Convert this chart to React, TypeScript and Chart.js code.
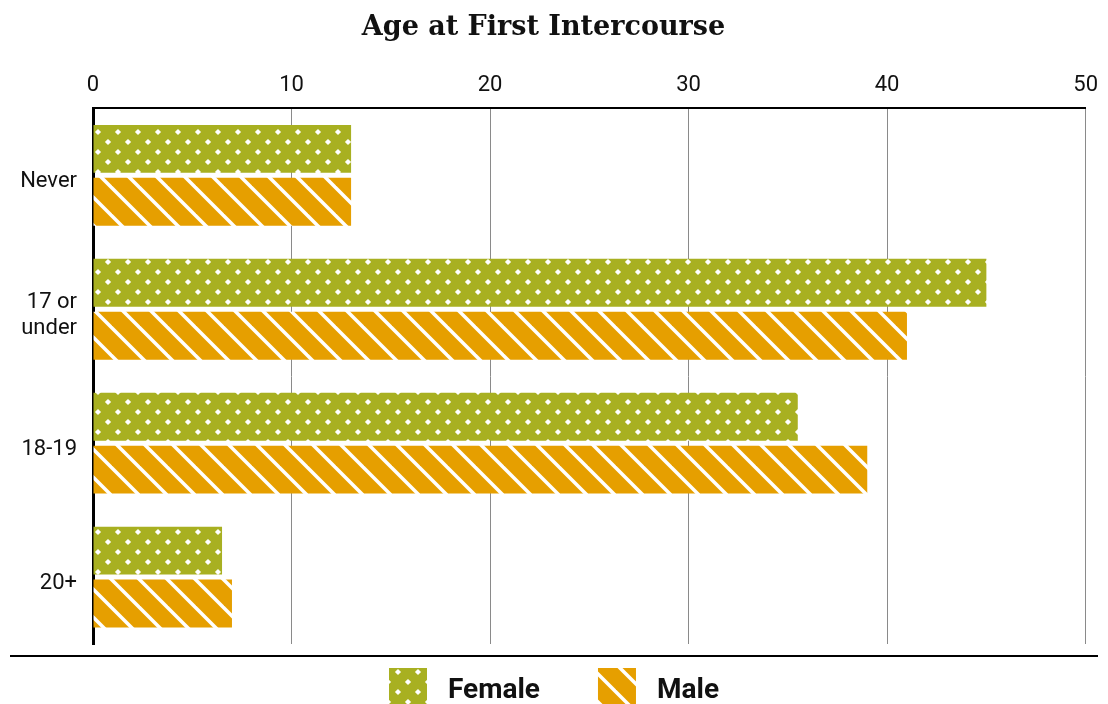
import React, { useEffect, useRef } from "react";
import { Chart, registerables } from "chart.js";

Chart.register(...registerables);

const categories: (string | string[])[] = ["Never", ["17 or", "under"], "18-19", "20+"];
const femaleValues = [13, 45, 35.5, 6.5];
const maleValues = [13, 41, 39, 7];
const seriesNames = ["Female", "Male"];
const xMin = 0;
const xMax = 50;
const xStep = 10;
const chartTitle = "Age at First Intercourse";

const OLIVE = "#a8b021";
const ORANGE = "#e69f00";

function makeDotPattern(): CanvasPattern | string {
  const t = document.createElement("canvas");
  t.width = 20;
  t.height = 20;
  const c = t.getContext("2d");
  if (!c) return OLIVE;
  c.fillStyle = OLIVE;
  c.fillRect(0, 0, 20, 20);
  c.fillStyle = "#ffffff";
  const pts = [
    [18, 12],
    [8, 2],
  ];
  const r = 3.1;
  for (const [px, py] of pts) {
    for (const dx of [-20, 0, 20]) {
      for (const dy of [-20, 0, 20]) {
        const x = px + dx;
        const y = py + dy;
        c.beginPath();
        c.moveTo(x, y - r);
        c.lineTo(x + r, y);
        c.lineTo(x, y + r);
        c.lineTo(x - r, y);
        c.closePath();
        c.fill();
      }
    }
  }
  const p = c.createPattern(t, "repeat");
  return p || OLIVE;
}

function makeStripePattern(): CanvasPattern | string {
  const s = 28;
  const t = document.createElement("canvas");
  t.width = s;
  t.height = s;
  const c = t.getContext("2d");
  if (!c) return ORANGE;
  c.fillStyle = ORANGE;
  c.fillRect(0, 0, s, s);
  c.strokeStyle = "#ffffff";
  c.lineWidth = 3.5;
  const base = 20;
  for (const k of [-2, -1, 0, 1]) {
    const off = base + k * s;
    c.beginPath();
    c.moveTo(-10, -10 + off);
    c.lineTo(s + 10, s + 10 + off);
    c.stroke();
  }
  const p = c.createPattern(t, "repeat");
  return p || ORANGE;
}

const legendPlugin = {
  id: "customLegend",
  afterDraw(chart: any) {
    const { ctx, chartArea } = chart;
    const lineY = chartArea.bottom + 12;
    ctx.save();
    ctx.strokeStyle = "#000";
    ctx.lineWidth = 2;
    ctx.beginPath();
    ctx.moveTo(10, lineY);
    ctx.lineTo(chart.width - 10, lineY);
    ctx.stroke();
    ctx.font = "bold 28px Roboto, 'Liberation Sans', sans-serif";
    const box = 38;
    const gap = 21;
    const itemGap = 58;
    const items = chart.data.datasets.map((ds: any) => ({
      label: ds.label,
      fill: ds.backgroundColor,
      w: ctx.measureText(ds.label).width,
    }));
    const total =
      items.reduce((s: number, it: any) => s + box + gap + it.w, 0) +
      itemGap * (items.length - 1);
    let x = (chart.width - total) / 2;
    const top = lineY + 12;
    ctx.textBaseline = "alphabetic";
    ctx.textAlign = "left";
    for (const it of items) {
      ctx.fillStyle = it.fill;
      ctx.fillRect(x, top, box, box);
      ctx.fillStyle = "#111";
      ctx.fillText(it.label, x + box + gap, top + 30);
      x += box + gap + it.w + itemGap;
    }
    ctx.restore();
  },
};

export default function App() {
  const ref = useRef<HTMLCanvasElement | null>(null);

  useEffect(() => {
    document.body.style.margin = "0";
    const canvas = ref.current;
    if (!canvas) return;
    const dots = makeDotPattern();
    const stripes = makeStripePattern();
    const tickFont = { family: "Roboto, 'Liberation Sans', sans-serif", size: 22 };
    const chart = new Chart(canvas, {
      type: "bar",
      data: {
        labels: categories as any,
        datasets: [
          {
            label: seriesNames[0],
            data: femaleValues,
            backgroundColor: dots as any,
            borderWidth: 0,
            categoryPercentage: 0.79,
            barPercentage: 0.905,
          },
          {
            label: seriesNames[1],
            data: maleValues,
            backgroundColor: stripes as any,
            borderWidth: 0,
            categoryPercentage: 0.79,
            barPercentage: 0.905,
          },
        ],
      },
      options: {
        indexAxis: "y",
        animation: false,
        responsive: false,
        devicePixelRatio: 1,
        layout: { padding: { left: 0, right: 21, top: 0, bottom: 60 } },
        plugins: {
          legend: { display: false },
          tooltip: { enabled: false },
          title: {
            display: true,
            text: chartTitle,
            color: "#111",
            font: {
              family: "'DejaVu Serif', serif",
              size: 27,
              weight: "bold",
            },
            padding: { top: 12, bottom: 20 },
          },
        },
        scales: {
          x: {
            position: "top",
            min: xMin,
            max: xMax,
            ticks: { stepSize: xStep, font: tickFont, color: "#111", padding: 10 },
            grid: { color: "#8a8a8a", lineWidth: 1, drawTicks: false },
            border: { display: true, color: "#000", width: 2 },
            afterFit: (s: any) => {
              s.height = 44;
            },
          },
          y: {
            ticks: { font: tickFont, color: "#111", padding: 16, labelOffset: 6 },
            grid: { drawOnChartArea: false, drawTicks: false },
            border: { display: true, color: "#000", width: 3 },
            afterFit: (s: any) => {
              s.width = 93;
            },
          },
        },
      },
      plugins: [legendPlugin],
    });
    return () => chart.destroy();
  }, []);

  return (
    <div style={{ width: 1108, height: 704, overflow: "hidden" }}>
      <canvas ref={ref} width={1108} height={704} style={{ display: "block" }} />
    </div>
  );
}
